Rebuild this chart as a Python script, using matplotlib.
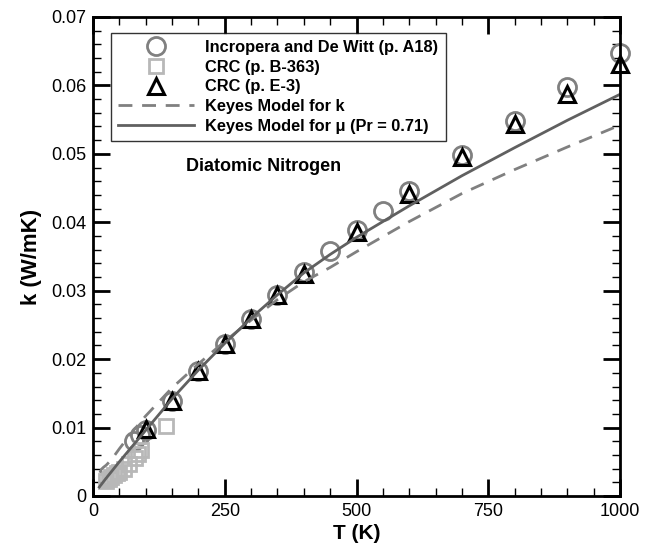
import matplotlib
matplotlib.use("Agg")
from matplotlib import pyplot as plt
from matplotlib.ticker import MultipleLocator

plt.rcParams.update({"font.family": ["Liberation Sans", "DejaVu Sans"], "font.size": 12})

# Incropera and De Witt (p. A18)
inc_T = [78, 89, 100, 150, 200, 250, 300, 350, 400, 450, 500, 550, 600, 700, 800, 900, 1000]
inc_k = [0.0081, 0.0089, 0.00958, 0.0139, 0.0183, 0.0222, 0.0259, 0.0293, 0.0327, 0.0358,
         0.0389, 0.0417, 0.0446, 0.0499, 0.0548, 0.0597, 0.0647]

# CRC (p. B-363)
crcb_T = [25, 30, 35, 40, 45, 50, 58, 69, 80, 86, 92, 138]
crcb_k = [0.0022, 0.0025, 0.0028, 0.0030, 0.0033, 0.0035, 0.0040, 0.0047, 0.0055, 0.0061,
          0.0067, 0.0103]

# CRC (p. E-3)
crce_T = [100, 150, 200, 250, 300, 350, 400, 500, 600, 700, 800, 900, 1000]
crce_k = [0.00975, 0.0139, 0.0183, 0.0222, 0.0259, 0.0293, 0.0325, 0.0386, 0.0442, 0.0495,
          0.0544, 0.0588, 0.0631]

# Keyes model for k
kk_T = [13, 16, 20, 25, 30, 35, 50, 75, 100, 150, 200, 250, 300, 350, 400, 450, 500,
        600, 700, 800, 900, 1000]
kk_k = [0.0034, 0.0039, 0.0042, 0.0045, 0.0049, 0.0053, 0.0069, 0.0094, 0.0117, 0.0158,
        0.0193, 0.0226, 0.0257, 0.0287, 0.0313, 0.0334, 0.0357, 0.0401, 0.0442, 0.0477,
        0.0510, 0.0542]

# Keyes model for mu (Pr = 0.71)
km_T = [12, 25, 50, 75, 100, 150, 200, 250, 300, 350, 400, 450, 500, 600, 700, 800, 900, 1000]
km_k = [0.0013, 0.0026, 0.0050, 0.0073, 0.0096, 0.0142, 0.0184, 0.0223, 0.0260, 0.0294,
        0.0326, 0.0353, 0.0378, 0.0424, 0.0468, 0.0509, 0.0549, 0.0587]

fig = plt.figure(figsize=(6.53, 5.5), dpi=100)
ax = fig.add_axes([0.1424, 0.0982, 0.8071, 0.8709])

ax.plot(inc_T, inc_k, "o", ms=13, mfc="none", mec="#808080", mew=2, clip_on=False,
        label="Incropera and De Witt (p. A18)")
ax.plot(crcb_T, crcb_k, "s", ms=10, mfc="none", mec="#b8b8b8", mew=2, clip_on=False,
        label="CRC (p. B-363)")
ax.plot(crce_T, crce_k, "^", ms=12, mfc="none", mec="black", mew=2.2, clip_on=False,
        label="CRC (p. E-3)")
ax.plot(kk_T, kk_k, "--", color="#808080", lw=2, dashes=(5, 3.5),
        label="Keyes Model for k")
ax.plot(km_T, km_k, "-", color="#606060", lw=2,
        label="Keyes Model for μ (Pr = 0.71)")

ax.set_xlim(0, 1000)
ax.set_ylim(0, 0.07)
ax.xaxis.set_major_locator(MultipleLocator(250))
ax.xaxis.set_minor_locator(MultipleLocator(50))
ax.yaxis.set_major_locator(MultipleLocator(0.01))
ax.yaxis.set_minor_locator(MultipleLocator(0.002))
ax.set_yticks([0, 0.01, 0.02, 0.03, 0.04, 0.05, 0.06, 0.07],
              ["0", "0.01", "0.02", "0.03", "0.04", "0.05", "0.06", "0.07"])
ax.tick_params(which="both", direction="in", top=True, right=True, labelsize=13, pad=5)
ax.tick_params(which="major", length=12, width=2)
ax.tick_params(which="minor", length=6, width=1)
for s in ax.spines.values():
    s.set_linewidth(2)

ax.set_xlabel("T (K)", fontsize=15, fontweight="bold", labelpad=3)
ax.set_ylabel("k (W/mK)", fontsize=16, fontweight="bold", labelpad=6)

leg = ax.legend(loc="upper left", bbox_to_anchor=(0.034, 0.967),
                prop={"weight": "bold", "size": 11.8}, frameon=True, fancybox=False,
                edgecolor="black", handlelength=4.6, handletextpad=0.7,
                labelspacing=0.28, borderpad=0.45, borderaxespad=0)
leg.get_frame().set_linewidth(1)

ax.text(324, 0.0481, "Diatomic Nitrogen", fontsize=13, fontweight="bold",
        ha="center", va="center")

fig.savefig("out.png", dpi=100)
